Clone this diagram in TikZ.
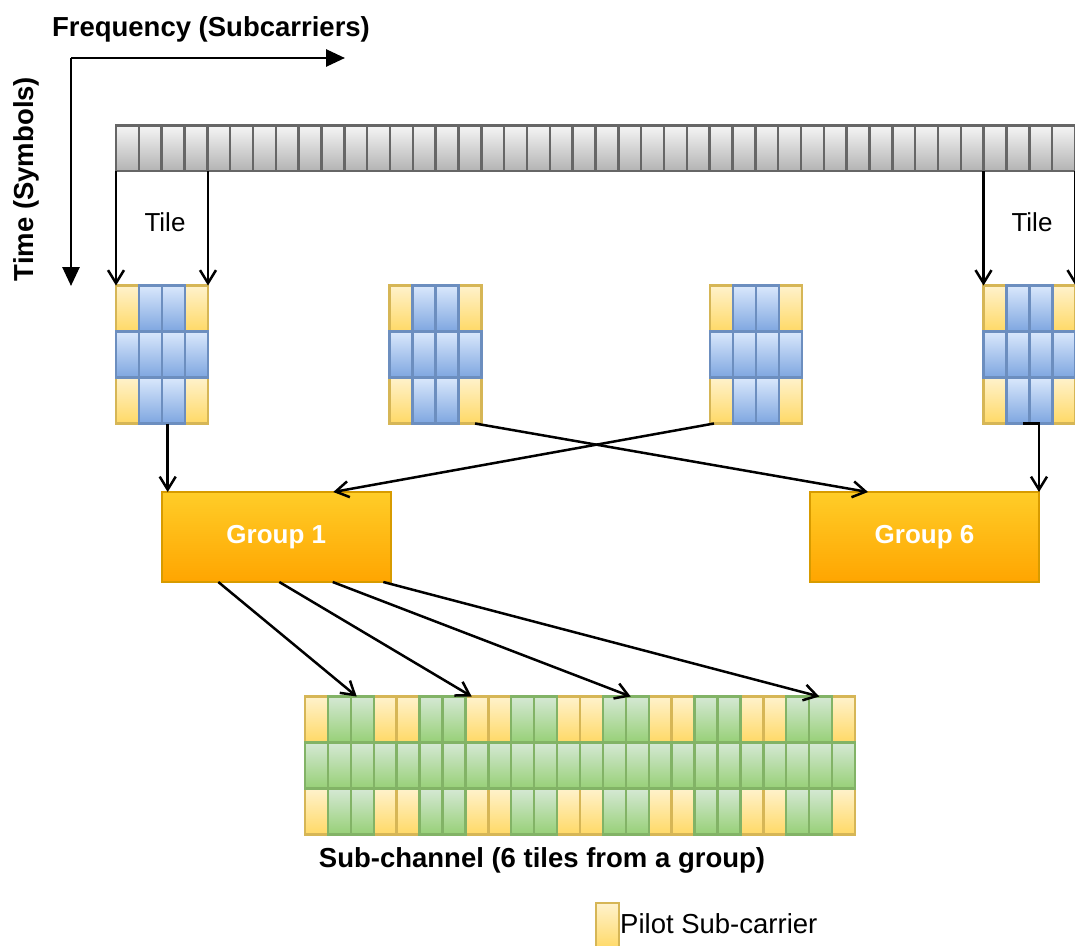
\documentclass[tikz,border=0pt]{standalone}
\usepackage{fontspec}
\setmainfont{Liberation Sans}
\usetikzlibrary{arrows.meta,calc}

\definecolor{pilotTop}{HTML}{FFF2CC}
\definecolor{pilotBot}{HTML}{FFD966}
\definecolor{pilotLine}{HTML}{D6B656}
\definecolor{blueTop}{HTML}{DAE8FC}
\definecolor{blueBot}{HTML}{7EA6E0}
\definecolor{blueLine}{HTML}{6C8EBF}
\definecolor{greenTop}{HTML}{D5E8D4}
\definecolor{greenBot}{HTML}{97D077}
\definecolor{greenLine}{HTML}{82B366}
\definecolor{grayTop}{HTML}{F5F5F5}
\definecolor{grayBot}{HTML}{B3B3B3}
\definecolor{grayLine}{HTML}{666666}
\definecolor{grpTop}{HTML}{FFCD28}
\definecolor{grpBot}{HTML}{FFA500}
\definecolor{grpLine}{HTML}{D79B00}

\tikzset{
  pilot/.style={top color=pilotTop,bottom color=pilotBot,draw=pilotLine,line width=2.4pt},
  datacell/.style={top color=blueTop,bottom color=blueBot,draw=blueLine,line width=2.4pt},
  subcell/.style={top color=greenTop,bottom color=greenBot,draw=greenLine,line width=2.4pt},
  barcell/.style={top color=grayTop,bottom color=grayBot,draw=grayLine,line width=2.4pt},
  frame/.style={rectangle,inner sep=0pt,outer sep=0pt},
  group/.style={rectangle,top color=grpTop,bottom color=grpBot,draw=grpLine,line width=2.4pt,
    minimum width=229pt,minimum height=90pt,inner sep=0pt,outer sep=0pt,text=white,
    font=\fontsize{26}{31}\selectfont\bfseries},
  heading/.style={font=\fontsize{27.5}{33}\selectfont\bfseries,inner sep=0pt},
  plain/.style={font=\fontsize{26}{31}\selectfont,inner sep=0pt},
  link/.style={line width=2.5pt,-{Straight Barb[length=13pt,width=16pt]}},
  axis/.style={line width=2.8pt,-{Triangle[length=19pt,width=17pt]}},
}

% one tile: 4 subcarriers x 3 symbols, pilots in the corners
\newcommand\drawtile[2]{%
  \foreach \c/\r in {0/0,3/0,0/2,3/2}
    \path[pilot] ($(#1.north west)+(\c*23,\r*46)$) rectangle ++(23,46);
  \foreach \c/\r in {1/0,2/0,0/1,1/1,2/1,3/1,1/2,2/2}
    \path[#2] ($(#1.north west)+(\c*23,\r*46)$) rectangle ++(23,46);
}

\begin{document}
\begin{tikzpicture}[x=1pt,y=-1pt]
\useasboundingbox (0,0) rectangle (1075,945);
\clip (0,0) rectangle (1075,945);

% time / frequency axes
\coordinate (origin) at (71,58);
\coordinate (fend) at (345,58);
\coordinate (tend) at (71,286);
\draw[axis] (origin) -- (fend);
\draw[axis] (origin) -- (tend);
\node[heading] (flabel) at (211,29) {Frequency (Subcarriers)};
\node[heading,rotate=90] (tlabel) at (26,179) {Time (Symbols)};

% row of subcarriers
\node[frame,minimum width=959pt,minimum height=45.5pt] (bar) at (595.5,148.25) {};
\foreach \i in {0,...,41}
  \path[barcell] ($(bar.north west)+(\i*22.833,0)$) rectangle ++(22.833,45.5);

% tiles
\node[frame,minimum width=92pt,minimum height=138pt] (t1) at (162,354.5) {};
\node[frame,minimum width=92pt,minimum height=138pt] (t2) at (435.5,354.5) {};
\node[frame,minimum width=92pt,minimum height=138pt] (t3) at (756,354.5) {};
\node[frame,minimum width=92pt,minimum height=138pt] (t4) at (1029.5,354.5) {};
\drawtile{t1}{datacell}
\drawtile{t2}{datacell}
\drawtile{t3}{datacell}
\drawtile{t4}{datacell}

\draw[link] (bar.south -| t1.north west) -- (t1.north west);
\draw[link] (bar.south -| t1.north east) -- (t1.north east);
\draw[link] (bar.south -| t4.north west) -- (t4.north west);
\draw[link] (bar.south -| t4.north east) -- (t4.north east);
\node[plain] (tileL) at (165,222) {Tile};
\node[plain] (tileR) at (1032,222) {Tile};

% groups
\node[group] (g1) at (276.3,537) {Group 1};
\node[group] (g6) at (924.5,537) {Group 6};

\draw[link] ([xshift=5.7pt]t1.south) -- ([xshift=5.7pt]t1.south |- g1.north);
\draw[link] ([xshift=-6.5pt]t2.south east) -- ([xshift=-56.5pt]g6.north);
\draw[link] ([xshift=4pt]t3.south west) -- ([xshift=57pt]g1.north);
\draw[link] ([xshift=-6.5pt]t4.south) -| (g6.north east);

% sub-channel built from six tiles
\node[frame,minimum width=550pt,minimum height=138pt] (sc) at (580,765.5) {};
\foreach \k in {0,...,5}{
  \foreach \c/\r in {0/0,3/0,0/2,3/2}
    \path[pilot] ($(sc.north west)+({(\k*4+\c)*22.9167},\r*46)$) rectangle ++(22.9167,46);
  \foreach \c/\r in {1/0,2/0,0/1,1/1,2/1,3/1,1/2,2/2}
    \path[subcell] ($(sc.north west)+({(\k*4+\c)*22.9167},\r*46)$) rectangle ++(22.9167,46);
}
\node[heading] (sclabel) at (542,860) {Sub-channel (6 tiles from a group)};

\draw[link] ([xshift=-58pt]g1.south) -- ([xshift=-223.3pt]sc.north);
\draw[link] ([xshift=3pt]g1.south) -- ([xshift=-108.3pt]sc.north);
\draw[link] ([xshift=56.4pt]g1.south) -- ([xshift=50.7pt]sc.north);
\draw[link] ([xshift=107pt]g1.south) -- ([xshift=239.3pt]sc.north);

% legend
\node[pilot,rectangle,minimum width=23pt,minimum height=46pt,inner sep=0pt] (key) at (607.5,926) {};
\node[font=\fontsize{27.5}{33}\selectfont,inner sep=0pt,anchor=west] (keytext) at (620,924) {Pilot Sub-carrier};
\end{tikzpicture}
\end{document}
